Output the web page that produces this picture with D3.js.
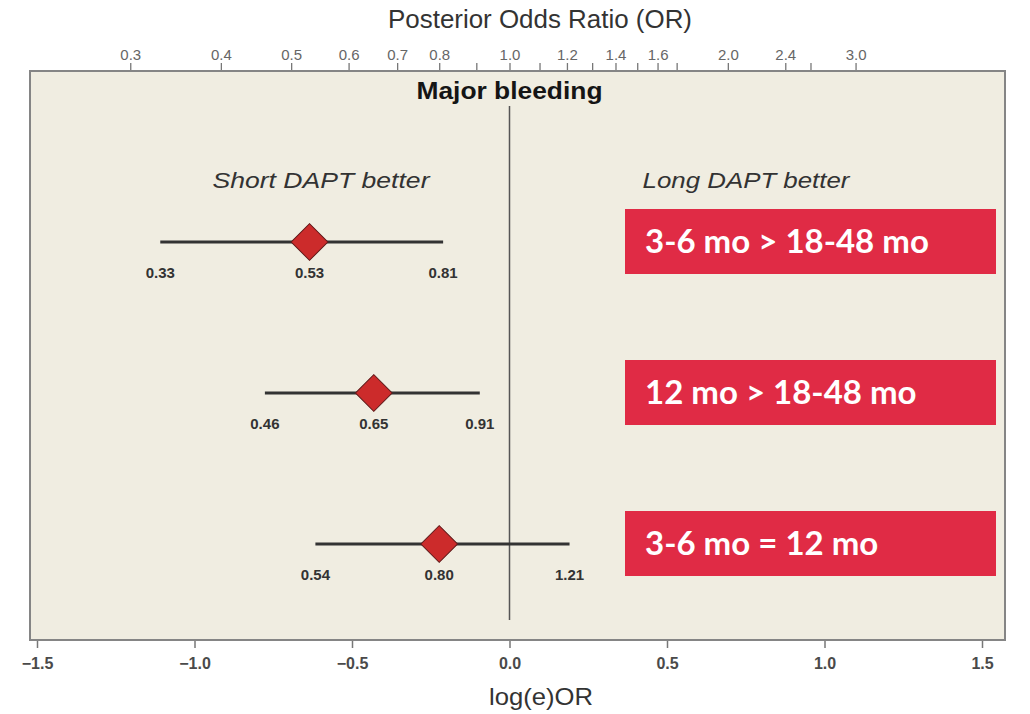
<!DOCTYPE html>
<html>
<head>
<meta charset="utf-8">
<script src="https://cdn.jsdelivr.net/npm/d3@7"></script>
<style>
  body { margin: 0; background: #fff; }
  svg { display: block; font-family: "Liberation Sans", Arial, sans-serif; }
</style>
</head>
<body>
<div id="chart"></div>
<script>
var w = 1030;
var h = 714;

// rows of the forest plot
var rows = ["3-6 vs 18-48", "12 vs 18-48", "3-6 vs 12"];
var orPoint = [0.53, 0.65, 0.80];
var orLow = [0.33, 0.46, 0.54];
var orHigh = [0.81, 0.91, 1.21];
var verdicts = ["3-6 mo > 18-48 mo", "12 mo > 18-48 mo", "3-6 mo = 12 mo"];

// axis ticks
var logTicks = [-1.5, -1.0, -0.5, 0.0, 0.5, 1.0, 1.5];
var orTickLabels = [0.3, 0.4, 0.5, 0.6, 0.7, 0.8, 1.0, 1.2, 1.4, 1.6, 2.0, 2.4, 3.0];
var orTickMinor = [0.9, 1.1, 1.3, 1.5, 1.7, 2.6];

var panel = { left: 30, right: 1005, top: 71, bottom: 640 };

var x = d3.scaleLinear()
  .domain([-1.5, 1.5])
  .range([37, 982]);

// same positions, read as odds ratios
var xOR = d3.scaleLog()
  .domain([Math.exp(-1.5), Math.exp(1.5)])
  .range(x.range());

var y = d3.scalePoint()
  .domain(rows)
  .range([242, 544]);

var svg = d3.select("#chart")
  .append("svg")
  .attr("width", w)
  .attr("height", h);

// panel
svg.append("rect")
  .attr("x", panel.left)
  .attr("y", panel.top)
  .attr("width", panel.right - panel.left)
  .attr("height", panel.bottom - panel.top)
  .attr("fill", "#f0ede1")
  .attr("stroke", "#858585")
  .attr("stroke-width", 2);

// bottom axis
var bottomAxis = svg.append("g")
  .attr("transform", "translate(0," + (panel.bottom + 1) + ")")
  .call(d3.axisBottom(x)
    .tickValues(logTicks)
    .tickFormat(d3.format(".1f"))
    .tickSize(7)
    .tickPadding(10));
bottomAxis.select(".domain").remove();
bottomAxis.selectAll("line").attr("stroke", "#777").attr("stroke-width", 1.5);
bottomAxis.selectAll("text")
  .attr("fill", "#4a4a4a")
  .attr("font-size", 16)
  .attr("font-weight", "bold")
  .attr("font-family", "Liberation Sans, Arial, sans-serif");

// top axis (odds ratio)
var topAxis = svg.append("g")
  .attr("transform", "translate(0," + (panel.top - 1) + ")")
  .call(d3.axisTop(xOR)
    .tickValues(orTickLabels.concat(orTickMinor))
    .tickFormat(function(d) {
      return orTickMinor.indexOf(d) >= 0 ? "" : d3.format(".1f")(d);
    })
    .tickSize(7)
    .tickPadding(3));
topAxis.select(".domain").remove();
topAxis.selectAll("line").attr("stroke", "#777").attr("stroke-width", 1.3);
topAxis.selectAll("text")
  .attr("fill", "#666")
  .attr("font-size", 15)
  .attr("font-family", "Liberation Sans, Arial, sans-serif");

// titles, a little wider than the font draws them
function label(tx, ty, size, len, txt) {
  return svg.append("text")
    .attr("x", tx)
    .attr("y", ty)
    .attr("text-anchor", "middle")
    .attr("font-size", size)
    .attr("textLength", len)
    .attr("lengthAdjust", "spacingAndGlyphs")
    .attr("fill", "#333")
    .text(txt);
}

label(540, 28, 25, 304, "Posterior Odds Ratio (OR)");
label(541, 705, 24, 104, "log(e)OR");
label(x(0), 99, 23, 186, "Major bleeding")
  .attr("font-weight", "bold")
  .attr("fill", "#151515");

// reference line at log OR = 0
svg.append("line")
  .attr("x1", x(0))
  .attr("x2", x(0))
  .attr("y1", 106)
  .attr("y2", 620)
  .attr("stroke", "#555")
  .attr("stroke-width", 1.5);

label(321, 188, 22, 217, "Short DAPT better").attr("font-style", "italic");
label(746, 188, 22, 207, "Long DAPT better").attr("font-style", "italic");

// estimates
var est = svg.selectAll("g.est")
  .data(rows)
  .enter()
  .append("g")
  .attr("class", "est");

est.append("line")
  .attr("x1", function(d, i) { return xOR(orLow[i]); })
  .attr("x2", function(d, i) { return xOR(orHigh[i]); })
  .attr("y1", function(d) { return y(d); })
  .attr("y2", function(d) { return y(d); })
  .attr("stroke", "#333")
  .attr("stroke-width", 3);

est.append("path")
  .attr("d", d3.symbol().type(d3.symbolSquare).size(26 * 26))
  .attr("transform", function(d, i) {
    return "translate(" + xOR(orPoint[i]) + "," + y(d) + ") rotate(45)";
  })
  .attr("fill", "#cc2b2b")
  .attr("stroke", "#5e1b1b")
  .attr("stroke-width", 1);

var labelRows = [];
rows.forEach(function(r, i) {
  labelRows.push({ row: r, v: orLow[i] });
  labelRows.push({ row: r, v: orPoint[i] });
  labelRows.push({ row: r, v: orHigh[i] });
});

svg.selectAll("text.val")
  .data(labelRows)
  .enter()
  .append("text")
  .attr("class", "val")
  .attr("x", function(d) { return xOR(d.v); })
  .attr("y", function(d) { return y(d.row) + 36; })
  .attr("text-anchor", "middle")
  .attr("font-size", 15)
  .attr("font-weight", "bold")
  .attr("fill", "#333")
  .text(function(d) { return d3.format(".2f")(d.v); });

// verdict boxes
var boxes = svg.selectAll("g.box")
  .data(rows)
  .enter()
  .append("g")
  .attr("class", "box");

boxes.append("rect")
  .attr("x", 625)
  .attr("y", function(d) { return y(d) - 33; })
  .attr("width", 371)
  .attr("height", 65)
  .attr("fill", "#e02b45");

boxes.append("text")
  .attr("x", 645)
  .attr("y", function(d) { return y(d) + 11; })
  .attr("font-family", "Lato, 'Open Sans', sans-serif")
  .attr("font-weight", "bold")
  .attr("font-size", 33)
  .attr("fill", "#fff")
  .text(function(d, i) { return verdicts[i]; });
</script>
</body>
</html>
